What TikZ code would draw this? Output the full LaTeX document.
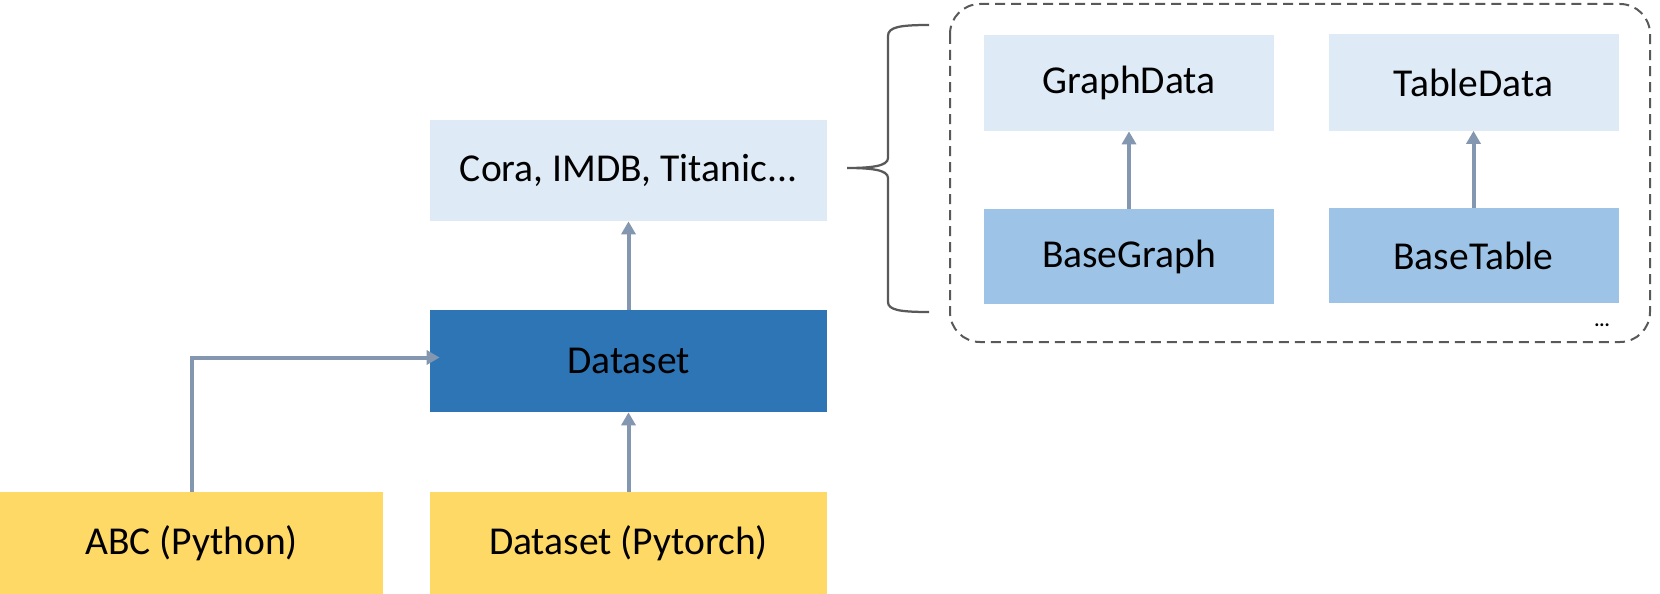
\documentclass[tikz,border=0pt]{standalone}
\usepackage{fontspec}
\setmainfont{Carlito}
\usetikzlibrary{arrows.meta, positioning}
\definecolor{PaleBlue}{HTML}{DEEBF7}
\definecolor{MidBlue}{HTML}{9DC3E6}
\definecolor{DarkBlue}{HTML}{2E75B6}
\definecolor{SoftYellow}{HTML}{FFD966}
\definecolor{ArrowGray}{HTML}{8497B0}
\definecolor{LineGray}{HTML}{595959}
\tikzset{
  box/.style={draw=none, inner sep=0pt, align=center, text=black, font=\fontsize{22.5}{27}\selectfont},
  palebox/.style={box, fill=PaleBlue, minimum width=79.4mm, minimum height=20.2mm},
  darkbox/.style={box, fill=DarkBlue, minimum width=79.4mm, minimum height=20.4mm},
  yellowbox/.style={box, fill=SoftYellow, minimum height=20.4mm},
  subbox/.style={box, fill=PaleBlue, minimum width=58mm, minimum height=19.2mm},
  basebox/.style={box, fill=MidBlue, minimum width=58mm, minimum height=19mm},
  arrow/.style={-{Triangle[length=2.6mm, width=2.8mm]}, line width=0.8mm, draw=ArrowGray},
  bracket/.style={draw=LineGray, line width=0.45mm}
}
\begin{document}
\begin{tikzpicture}[x=0.2mm, y=-0.2mm]
\useasboundingbox (0,0) rectangle (1660,594);
% left side
\node[palebox] (cora) at (628.5,170.5) {Cora, IMDB, Titanic...};
\node[darkbox] (dataset) at (628.5,361) {Dataset};
\node[yellowbox, minimum width=76.6mm] (abc) at (191.5,543) {ABC (Python)};
\node[yellowbox, minimum width=79.4mm] (pytorch) at (628.5,543) {Dataset (Pytorch)};
\draw[arrow] (dataset) -- (cora);
\draw[arrow] (pytorch) -- (dataset);
\draw[arrow] (abc.north) |- ([xshift=2mm, yshift=0.7mm]dataset.west);
% brace
\draw[bracket] (929,25) .. controls (900,25) and (888,27) .. (888,36)
  -- (888,158) .. controls (888,166) and (872,168) .. (847,168)
  .. controls (872,168) and (888,170) .. (888,178)
  -- (888,302) .. controls (888,310) and (900,312) .. (929,312);
% right side
\draw[LineGray, line width=0.4mm, dash pattern=on 2mm off 1.2mm, rounded corners=6mm]
  (950,4) rectangle (1650,342);
\node[subbox] (graphdata) at (1129,83) {GraphData};
\node[basebox] (basegraph) at (1129,256.5) {BaseGraph};
\node[subbox] (tabledata) at (1473.5,82.5) {TableData};
\node[basebox] (basetable) at (1473.5,255.5) {BaseTable};
\draw[arrow] (basegraph) -- (graphdata);
\draw[arrow] (basetable) -- (tabledata);
\node[font=\fontsize{11}{13}\selectfont\bfseries, inner sep=0pt] (more) at (1602,325) {...};
\end{tikzpicture}
\end{document}
